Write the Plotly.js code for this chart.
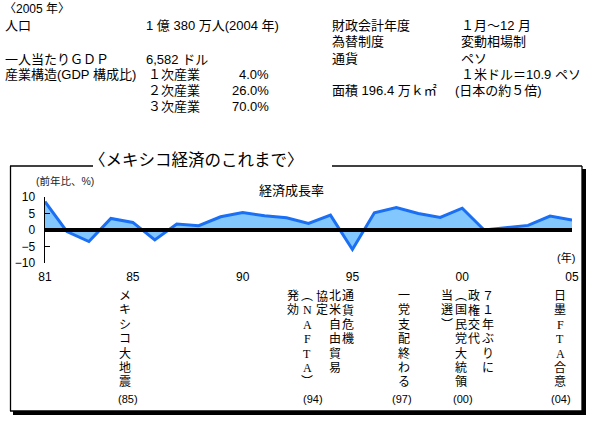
<!DOCTYPE html>
<html><head><meta charset="utf-8">
<script src="https://cdn.plot.ly/plotly-3.0.1.min.js"></script>
<style>html,body{margin:0;padding:0;background:#fff}#chart{width:597px;height:423px}</style>
</head><body><div id="chart"></div>
<script>
// ---- data ----
const years = [1981,1982,1983,1984,1985,1986,1987,1988,1989,1990,1991,1992,1993,1994,1995,1996,1997,1998,1999,2000,2001,2002,2003,2004,2005];
const growth = [8.6,-0.5,-3.5,3.5,2.3,-3.0,1.8,1.3,4.0,5.3,4.3,3.7,2.0,4.5,-5.9,5.2,6.8,5.0,3.8,6.6,0.0,0.8,1.4,4.2,3.0];
const xTickVals = [1981,1985,1990,1995,2000,2005];
const xTickText = ['81','85','90','95','00','05'];
const yTickVals = [-10,-5,0,5,10];
const yTickText = ['−10','−5','0','5','10'];

const headerText = '〈2005 年〉';
const leftLabels = ['人口','一人当たりＧＤＰ','産業構造(GDP 構成比)'];
const leftValues = ['1 億 380 万人(2004 年)','6,582 ドル'];
const sectorNames = ['１次産業','２次産業','３次産業'];
const sectorShares = ['4.0%','26.0%','70.0%'];
const rightLabels = ['財政会計年度','為替制度','通貨','','面積 196.4 万ｋ㎡'];
const rightValues = ['１月～12 月','変動相場制','ペソ','１米ドル＝10.9 ペソ','(日本の約５倍)'];

const chartTitle = '〈メキシコ経済のこれまで〉';
const seriesTitle = '経済成長率';
const yUnit = '(前年比、%)';
const xUnit = '(年)';

const eventColumns = ['メキシコ大地震','通貨危機','北米自由貿易','協定','︵NAFTA︶','発効','一党支配終わる','７１年ぶりに','政権交代','︵国民党大統領','当選︶','日墨FTA合意'];
const eventYears = ['(85)','(94)','(97)','(00)','(04)'];

// ---- layout helpers (pixel -> paper) ----
const W = 597, H = 423, L = 45, R = 572, T = 197, B = 263;
const px = X => (X - L) / (R - L);
const py = Y => (B - Y) / (B - T);
const JP = 'Liberation Sans, Noto Sans CJK JP, sans-serif';
const SERIF = 'Liberation Serif, Noto Sans CJK JP, serif';
const SANS = 'Liberation Sans, Arial, sans-serif';

const ann = [];
function txt(text, X, Y, opts) {
  opts = opts || {};
  ann.push({text: text, xref:'paper', yref:'paper', x: px(X), y: py(Y),
    xanchor: opts.xa || 'left', yanchor: opts.ya || 'middle', showarrow:false,
    font:{family: opts.family || JP, size: opts.size || 13, color: opts.color || '#000'}});
}
// header block
txt(headerText, 2, 8.5, {size:12});
txt(leftLabels[0], 3, 25);
txt(leftValues[0], 144, 25);
const rowY = [59.5, 75, 90.5, 106];
txt(leftLabels[1], 3, rowY[0]);
txt(leftValues[1], 144, rowY[0]);
txt(leftLabels[2], 3, rowY[1]);
sectorNames.forEach((s,i) => { txt(s, 146, rowY[i+1]); txt(sectorShares[i], 271, rowY[i+1], {xa:'right'}); });
const rightY = [25, 41.5, 58, 74.5, 90.5];
rightLabels.forEach((s,i) => { if (s) txt(s, 330, rightY[i]); });
rightValues.forEach((s,i) => txt(s, i === 4 ? 453 : 459, rightY[i]));

// chart titles
txt(chartTitle, 196, 160, {xa:'center', size:16.5});
txt(yUnit, 65, 181, {xa:'center', size:10.5, color:'#222'});
txt(seriesTitle, 291, 190, {xa:'center', size:13});
txt(xUnit, 566, 257, {xa:'center', size:11});

// vertical event notes (characters stacked top to bottom)
const colX = [125, 347.5, 335, 322, 307, 293, 404, 488, 474, 461, 447, 560];
const colFont = [JP, SERIF, SERIF, SERIF, SERIF, SERIF, SERIF, SERIF, SERIF, SERIF, SERIF, SERIF];
const colStep = 14.4;
eventColumns.forEach((s, i) => {
  Array.from(s).forEach((ch, j) => {
    txt(ch, colX[i], 296 + j * colStep, {xa:'center', size:12, family: colFont[i]});
  });
});
const yearLabelX = [128, 313, 402, 463, 561];
eventYears.forEach((s,i) => txt(s, yearLabelX[i], 398.5, {xa:'center', size:11, family: SANS}));

// frame shapes
const shapes = [];
function seg(x0,y0,x1,y1,w){ shapes.push({type:'line', xref:'paper', yref:'paper', x0:px(x0), y0:py(y0), x1:px(x1), y1:py(y1), line:{color:'#000', width:w}, layer:'above'}); }
seg(10, 166, 93, 166, 1.3);
seg(332, 166, 582, 166, 1.3);
seg(10.5, 166, 10.5, 411, 1.3);
seg(582, 166, 582, 411, 1.3);
seg(10, 411, 582, 411, 1.3);
seg(13, 413, 585, 413, 4);
seg(584, 169, 584, 415, 4);
// zero reference line
shapes.push({type:'line', xref:'paper', x0:0, x1:1, yref:'y', y0:0, y1:0, line:{color:'#000', width:4}, layer:'above'});

const trace = {
  x: years, y: growth, type:'scatter', mode:'lines',
  line:{color:'#1a6ff5', width:3}, fill:'tozeroy', fillcolor:'#82c8ff',
  hoverinfo:'skip'
};

const layout = {
  width: W, height: H,
  margin:{l:L, r:W-R, t:T, b:H-B, pad:0},
  paper_bgcolor:'#fff', plot_bgcolor:'rgba(0,0,0,0)',
  showlegend:false,
  xaxis:{range:[1981,2005], showline:false, ticks:'', showgrid:false, zeroline:false,
    tickmode:'array', tickvals:xTickVals, ticktext:xTickText,
    tickfont:{family:SANS, size:12, color:'#000'}, ticklabelstandoff:5, fixedrange:true},
  yaxis:{range:[-10,10], showline:true, linecolor:'#000', linewidth:1.5, ticks:'inside', ticklen:5,
    tickwidth:1.5, tickcolor:'#000', showgrid:false, zeroline:false,
    tickmode:'array', tickvals:yTickVals, ticktext:yTickText,
    tickfont:{family:SANS, size:12, color:'#000'}, ticklabelstandoff:6, fixedrange:true},
  annotations: ann,
  shapes: shapes
};
Plotly.newPlot('chart', [trace], layout, {displayModeBar:false, staticPlot:true});
</script>
</body></html>
